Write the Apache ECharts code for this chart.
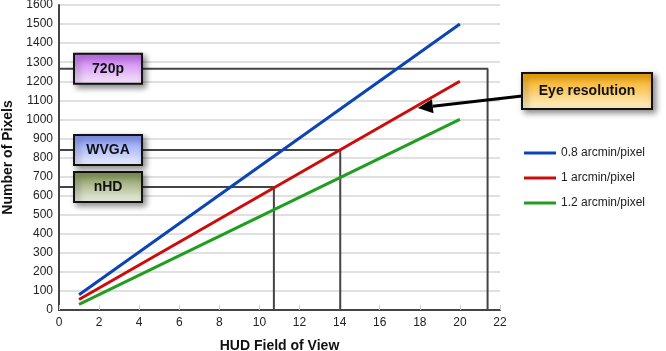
<!DOCTYPE html>
<html>
<head>
<meta charset="utf-8">
<script src="https://cdn.jsdelivr.net/npm/echarts@6/dist/echarts.min.js"></script>
<style>
  html, body { margin: 0; padding: 0; background: #fff; }
  #chart { width: 666px; height: 351px; }
</style>
</head>
<body>
<div id="chart"></div>
<script>
// data
const seriesNames = ['0.8 arcmin/pixel', '1 arcmin/pixel', '1.2 arcmin/pixel'];
const seriesColors = ['#0b44b4', '#cc0c0c', '#1f9e1f'];
const fovPoints = [1, 20];
const blueValues = [80, 1500];
const redValues = [55, 1200];
const greenValues = [30, 1000];

// display formats: horizontal pixel count and the FOV where the 1 arcmin line hits it
const formatNames = ['720p', 'WVGA', 'nHD'];
const formatPixels = [1265, 840, 645];
const formatFov = [21.38, 14.03, 10.72];
const formatTop = ['#c46af0', '#7c90f6', '#7d8f4c'];
const formatBottom = ['#f8eefc', '#eff1fd', '#f1f3e8'];

const FONT = '"Liberation Sans", Arial, sans-serif';

const chart = echarts.init(document.getElementById('chart'));

const valueSeries = [blueValues, redValues, greenValues].map((vals, i) => ({
  name: seriesNames[i],
  type: 'line',
  data: fovPoints.map((x, j) => [x, vals[j]]),
  showSymbol: false,
  symbol: 'none',
  lineStyle: { color: seriesColors[i], width: 3 },
  itemStyle: { color: seriesColors[i] },
  z: 5,
}));

// gray guide lines: across from the axis, then down to it
const guideSeries = formatNames.map((n, i) => ({
  name: n,
  type: 'line',
  data: [[0, formatPixels[i]], [formatFov[i], formatPixels[i]], [formatFov[i], 0]],
  showSymbol: false,
  symbol: 'none',
  lineStyle: { color: '#444', width: 2 },
  z: 3,
}));

chart.setOption({
  animation: false,
  grid: { left: 59, right: 166, top: 5, bottom: 41, containLabel: false, outerBoundsMode: 'none' },
  legend: {
    data: seriesNames,
    orient: 'vertical',
    left: 524,
    top: 147,
    padding: 0,
    icon: 'rect',
    itemWidth: 32,
    itemHeight: 3,
    itemGap: 13,
    textStyle: { fontFamily: FONT, fontSize: 12, color: '#222' },
  },
  xAxis: {
    type: 'value',
    min: 0,
    max: 22,
    interval: 2,
    name: 'HUD Field of View',
    nameLocation: 'middle',
    nameGap: 29,
    nameTextStyle: { fontFamily: FONT, fontSize: 14, fontWeight: 'bold', color: '#111' },
    axisLine: { lineStyle: { color: '#444', width: 2 } },
    axisTick: { inside: true, length: 5, lineStyle: { color: '#ccc' } },
    axisLabel: { fontFamily: FONT, fontSize: 12, color: '#222', margin: 7 },
    splitLine: { show: false },
  },
  yAxis: {
    type: 'value',
    min: 0,
    max: 1600,
    interval: 100,
    name: 'Number of Pixels',
    nameLocation: 'middle',
    nameGap: 42,
    nameTextStyle: { fontFamily: FONT, fontSize: 14, fontWeight: 'bold', color: '#111' },
    axisLine: { show: true, lineStyle: { color: '#444', width: 2 } },
    axisTick: { show: false },
    axisLabel: { fontFamily: FONT, fontSize: 12, color: '#222', margin: 6, formatter: v => String(v) },
    splitLine: { lineStyle: { color: '#d6d6d6', width: 1.5 } },
  },
  series: guideSeries.concat(valueSeries),
});

// callout boxes, placed from axis values
function box(x, y, w, h, top, bottom, text) {
  return [{
    type: 'rect',
    shape: { x: x, y: y, width: w, height: h },
    style: {
      fill: new echarts.graphic.LinearGradient(0, 0, 0, 1, [
        { offset: 0, color: top }, { offset: 1, color: bottom }
      ]),
      stroke: '#111',
      lineWidth: 2,
      shadowBlur: 6,
      shadowOffsetX: 3,
      shadowOffsetY: 3,
      shadowColor: 'rgba(0,0,0,0.45)',
    },
    z: 20,
  }, {
    type: 'text',
    x: x + w / 2,
    y: y + h / 2,
    style: {
      text: text,
      fontFamily: FONT,
      fontSize: 14,
      fontWeight: 'bold',
      fill: '#111',
      align: 'center',
      verticalAlign: 'middle',
    },
    z: 21,
  }];
}

const graphics = [];
formatNames.forEach((n, i) => {
  const p = chart.convertToPixel({ gridIndex: 0 }, [0.75, formatPixels[i]]);
  graphics.push(...box(p[0], p[1] - 15, 68, 30, formatTop[i], formatBottom[i], n));
});

// eye resolution callout with arrow pointing at the 1 arcmin line
const tip = chart.convertToPixel({ gridIndex: 0 }, [17.9, 1060]);
const tail = [522, 96];
const ang = Math.atan2(tail[1] - tip[1], tail[0] - tip[0]);
const headLen = 15, headW = 7;
const bx = tip[0] + Math.cos(ang) * headLen, by = tip[1] + Math.sin(ang) * headLen;
graphics.push({
  type: 'line',
  shape: { x1: bx, y1: by, x2: tail[0], y2: tail[1] },
  style: { stroke: '#000', lineWidth: 3 },
  z: 19,
}, {
  type: 'polygon',
  shape: {
    points: [
      tip,
      [bx - Math.sin(ang) * headW, by + Math.cos(ang) * headW],
      [bx + Math.sin(ang) * headW, by - Math.cos(ang) * headW],
    ],
  },
  style: { fill: '#000' },
  z: 19,
});
graphics.push(...box(522, 73, 130, 36, '#f6a300', '#fff4d2', 'Eye resolution'));

chart.setOption({ graphic: graphics });
</script>
</body>
</html>
